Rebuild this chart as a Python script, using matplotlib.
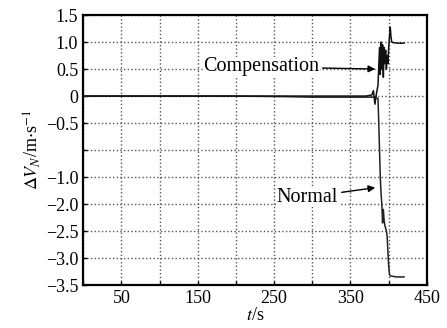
import matplotlib
matplotlib.use("Agg")
import matplotlib.pyplot as plt

plt.rcParams['font.family'] = ['Liberation Serif', 'DejaVu Serif']
plt.rcParams['mathtext.fontset'] = 'stix'

# compensation curve
t_comp = [0, 100, 200, 300, 370, 378, 380, 382, 384, 386, 388, 389, 390, 391,
          392, 393, 394, 395, 396, 397, 398, 399, 400, 401, 402, 403, 404, 406,
          412, 420]
v_comp = [0.0, 0.0, 0.0, 0.0, 0.0, 0.02, 0.1, -0.15, 0.05, 0.2, 0.9, 0.4, 1.0,
          0.5, 0.95, 0.35, 0.9, 0.6, 0.85, 0.5, 0.75, 0.6, 0.9, 1.1, 1.28, 1.1,
          1.0, 0.99, 0.98, 0.98]

# normal curve
t_norm = [0, 100, 200, 265, 300, 380, 384, 386, 387, 388, 389, 390, 391, 392,
          393, 394, 395, 396, 397, 398, 399, 400, 401, 402, 410, 420]
v_norm = [0.0, 0.0, 0.0, -0.01, -0.02, -0.02, -0.03, -0.05, -0.5, -1.0, -1.5,
          -1.8, -2.0, -2.35, -2.1, -2.3, -2.4, -2.45, -2.5, -2.6, -2.9, -3.15,
          -3.3, -3.33, -3.35, -3.35]

x_ticks = [0, 50, 100, 150, 200, 250, 300, 350, 400, 450]
x_labels = ['', '50', '', '150', '', '250', '', '350', '', '450']
y_ticks = [1.5, 1.0, 0.5, 0, -0.5, -1.0, -1.5, -2.0, -2.5, -3.0, -3.5]
y_labels = ['1.5', '1.0', '0.5', '0', '\u22120.5', '', '\u22121.0', '\u22122.0',
            '\u22122.5', '\u22123.0', '\u22123.5']

fig = plt.figure(figsize=(4.47, 3.28), dpi=100)
ax = fig.add_axes([0.186, 0.131, 0.769, 0.823])

ax.plot(t_norm, v_norm, color='#222222', lw=1.1)
ax.plot(t_comp, v_comp, color='#111111', lw=1.1)

ax.set_xlim(0, 450)
ax.set_ylim(-3.5, 1.5)
ax.set_xticks(x_ticks)
ax.set_xticklabels(x_labels)
ax.set_yticks(y_ticks)
ax.set_yticklabels(y_labels)
ax.tick_params(direction='in', labelsize=13, length=3, width=1)
ax.grid(True, linestyle=':', color='#555555', lw=1.0)
for s in ax.spines.values():
    s.set_linewidth(1.6)

ax.set_xlabel(r'$t$/s', fontsize=13, labelpad=0)
ax.set_ylabel(r'$\Delta V_N$/m$\cdot$s$^{-1}$', fontsize=13, labelpad=2)

arrow = dict(arrowstyle='-|>', color='black', lw=1.0, mutation_scale=10)
ax.annotate('Compensation', xy=(386, 0.5), xytext=(309, 0.54),
            ha='right', va='center', fontsize=14.5, arrowprops=arrow,
            bbox=dict(fc='white', ec='none', pad=0.5))
ax.annotate('Normal', xy=(386, -1.69), xytext=(334, -1.87),
            ha='right', va='center', fontsize=14.5, arrowprops=arrow,
            bbox=dict(fc='white', ec='none', pad=0.5))

plt.savefig('out.png', dpi=100)
